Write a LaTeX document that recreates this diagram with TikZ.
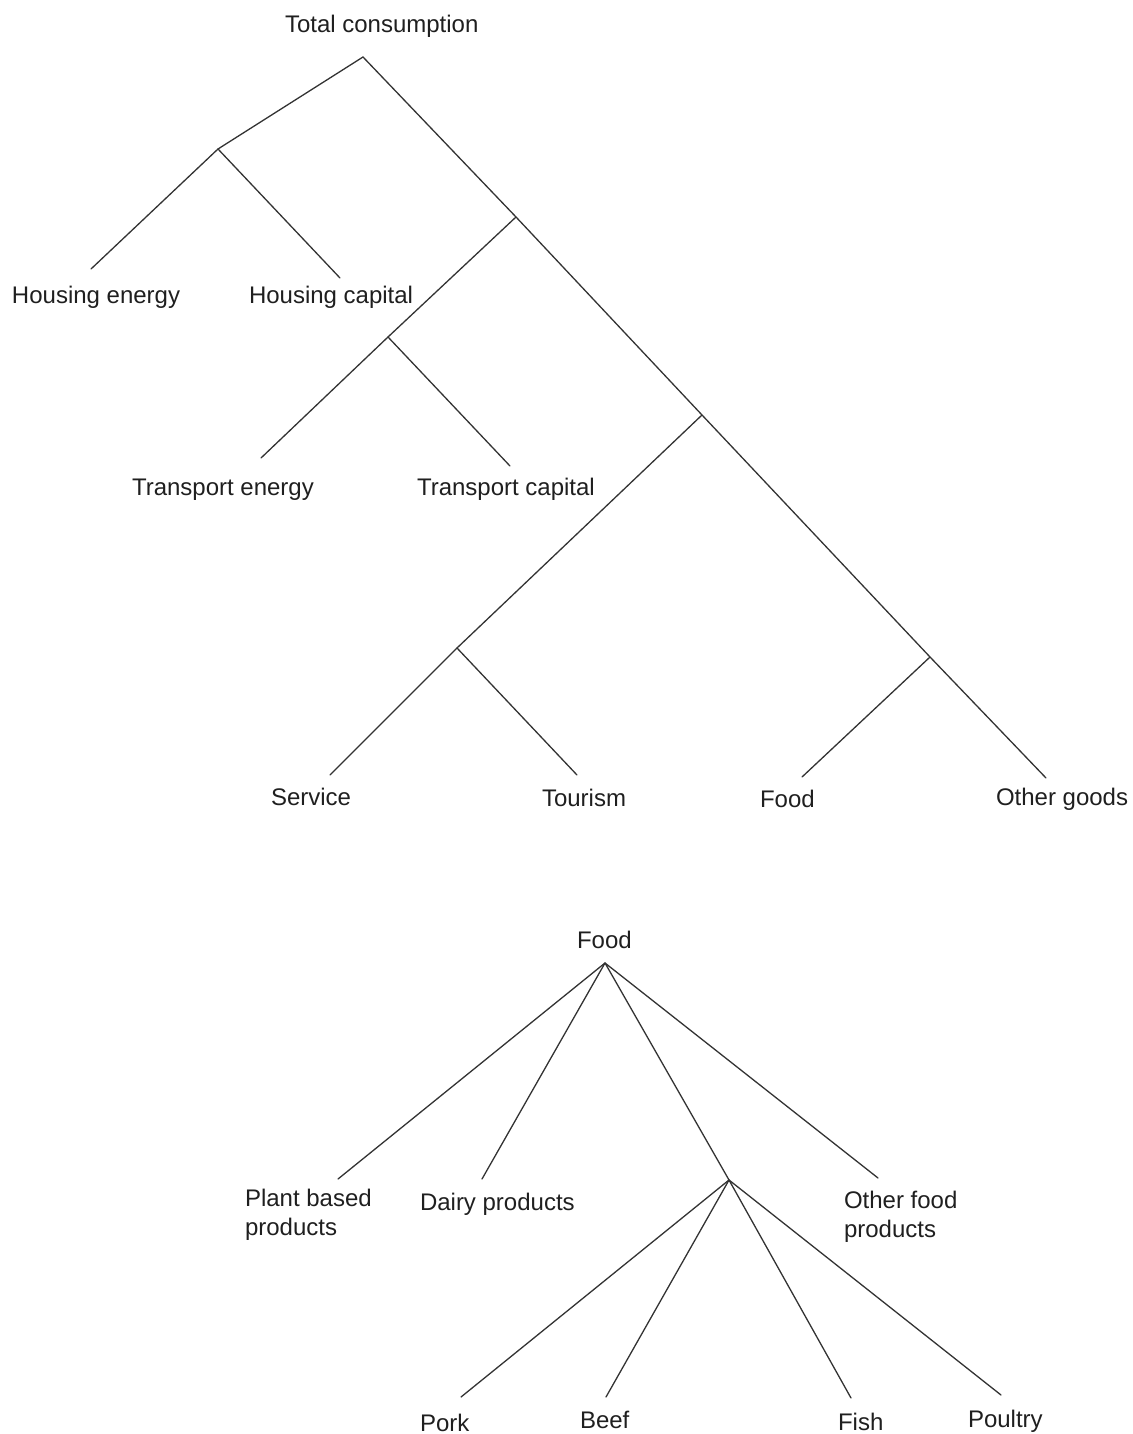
\documentclass[tikz,border=0pt]{standalone}
\usepackage{fontspec}
\setmainfont{Liberation Sans}
\begin{document}
\begin{tikzpicture}[x=1pt,y=-1pt,
  lbl/.style={inner sep=0pt,outer sep=0pt,text=black!88,font=\fontsize{24}{29}\selectfont},
  lblb/.style={lbl,anchor=base west},
  lbln/.style={lbl,anchor=north west,align=left},
  branch/.style={draw=black!80,line width=1.3pt,line cap=round}]
\useasboundingbox (0,0) rectangle (1132,1434);
% ---------- top tree ----------
\node[lblb] (tc) at (285,33) {Total consumption};
\coordinate (root) at (363,57);
\coordinate (hj) at (218,149);
\coordinate (j2) at (516,217);
\coordinate (tj) at (388,337);
\coordinate (j3) at (702,415);
\coordinate (sj) at (457,648);
\coordinate (j4) at (930,657);
\coordinate (heE) at (91,269);
\coordinate (hcE) at (340,278);
\coordinate (teE) at (261,458);
\coordinate (tcE) at (510,466);
\coordinate (seE) at (330,775);
\coordinate (toE) at (577,775);
\coordinate (foE) at (802,777);
\coordinate (ogE) at (1046,778);
\node[lblb] (he) at (12,303) {Housing energy};
\node[lblb] (hc) at (249,303) {Housing capital};
\node[lblb] (te) at (132,495) {Transport energy};
\node[lblb] (tcap) at (417,495) {Transport capital};
\node[lblb] (se) at (271,805) {Service};
\node[lblb] (to) at (542,806) {Tourism};
\node[lblb] (fo) at (760,807) {Food};
\node[lblb] (og) at (996,805) {Other goods};
\draw[branch] (hj) -- (root) -- (j2) -- (j3) -- (j4) -- (ogE);
\draw[branch] (heE) -- (hj) -- (hcE);
\draw[branch] (j2) -- (tj);
\draw[branch] (teE) -- (tj) -- (tcE);
\draw[branch] (j3) -- (sj);
\draw[branch] (seE) -- (sj) -- (toE);
\draw[branch] (j4) -- (foE);
% ---------- bottom tree ----------
\node[lblb] (food) at (577,948) {Food};
\coordinate (froot) at (605,963);
\coordinate (mj) at (729,1180);
\coordinate (plE) at (338,1179);
\coordinate (daE) at (482,1179);
\coordinate (ofE) at (878,1178);
\coordinate (poE) at (461,1397);
\coordinate (beE) at (606,1397);
\coordinate (fiE) at (851,1398);
\coordinate (puE) at (1001,1395);
\node[lbln] (pl) at (245,1189) {Plant based\\products};
\node[lblb] (da) at (420,1210) {Dairy products};
\node[lbln] (of) at (844,1191) {Other food\\products};
\node[lblb] (po) at (420,1431) {Pork};
\node[lblb] (be) at (580,1428) {Beef};
\node[lblb] (fi) at (838,1430) {Fish};
\node[lblb] (pu) at (968,1427) {Poultry};
\draw[branch] (froot) -- (plE);
\draw[branch] (froot) -- (daE);
\draw[branch] (froot) -- (mj);
\draw[branch] (froot) -- (ofE);
\draw[branch] (mj) -- (poE);
\draw[branch] (mj) -- (beE);
\draw[branch] (mj) -- (fiE);
\draw[branch] (mj) -- (puE);
\end{tikzpicture}
\end{document}
